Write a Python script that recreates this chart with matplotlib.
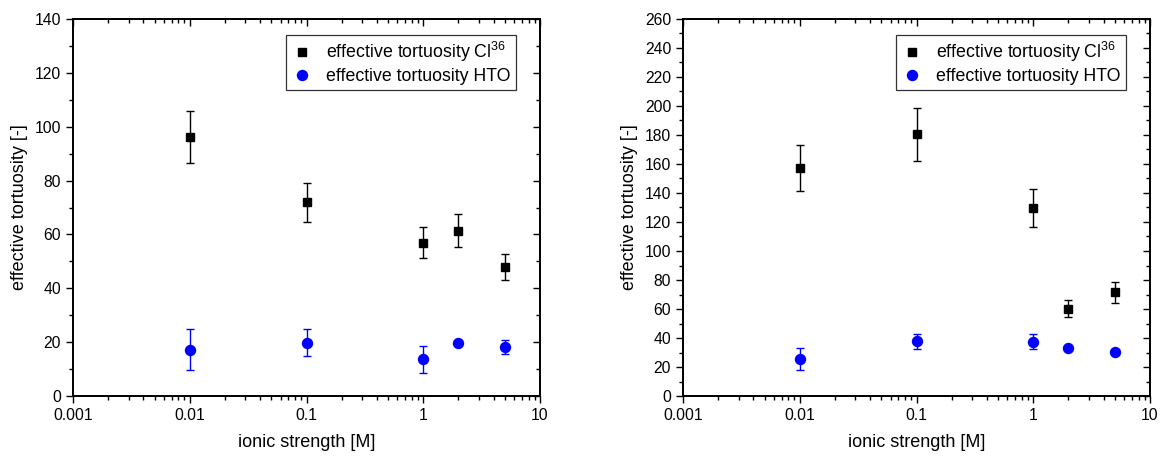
import matplotlib
matplotlib.use("Agg")
import matplotlib.pyplot as plt
from matplotlib.ticker import LogLocator, MultipleLocator, FixedLocator, NullFormatter
from matplotlib.lines import Line2D

plt.rcParams['font.family'] = ['Liberation Sans', 'DejaVu Sans']
plt.rcParams['mathtext.default'] = 'regular'

ionic_strength = [0.01, 0.1, 1, 2, 5]

# left panel
cl_left = [96.3, 71.9, 56.9, 61.4, 47.9]
cl_left_lo = [86.6, 64.7, 51.2, 55.3, 43.1]
cl_left_hi = [105.9, 79.1, 62.8, 67.7, 52.7]
hto_left = [17.1, 19.8, 13.6, 19.6, 18.2]
hto_left_lo = [9.5, 14.9, 8.7, 19.6, 15.7]
hto_left_hi = [24.8, 24.9, 18.5, 19.6, 20.7]

# right panel
cl_right = [157.2, 180.5, 129.4, 60.2, 71.5]
cl_right_lo = [141.4, 162.1, 116.6, 54.3, 64.1]
cl_right_hi = [172.9, 198.4, 142.5, 66.4, 78.9]
hto_right = [25.3, 37.7, 37.5, 33.1, 30.3]
hto_right_lo = [17.7, 32.6, 32.4, 33.1, 30.3]
hto_right_hi = [33.1, 42.8, 42.5, 33.1, 30.3]

x_ticks = [0.001, 0.01, 0.1, 1, 10]
x_tick_labels = ['0.001', '0.01', '0.1', '1', '10']
label_cl = 'effective tortuosity Cl$^{36}$'
label_hto = 'effective tortuosity HTO'

fig = plt.figure(figsize=(11.6, 4.57), dpi=100)
ax1 = fig.add_axes([73/1160, 1-396/457, 467/1160, 377/457])
ax2 = fig.add_axes([683/1160, 1-396/457, 467/1160, 377/457])


def set_ticks(a, direction):
    a.tick_params(which='both', direction=direction, width=1)
    a.tick_params(which='major', length=5)
    a.tick_params(which='minor', length=3)


def panel(ax, cl, cl_lo, cl_hi, hto, hto_lo, hto_hi, ymax):
    cl_err = [[c - l for c, l in zip(cl, cl_lo)], [h - c for c, h in zip(cl, cl_hi)]]
    hto_err = [[c - l for c, l in zip(hto, hto_lo)], [h - c for c, h in zip(hto, hto_hi)]]
    ax.errorbar(ionic_strength, cl, yerr=cl_err, fmt='s', color='black', ms=6.4,
                elinewidth=1.0, capsize=3, capthick=1.0)
    ax.errorbar(ionic_strength, hto, yerr=hto_err, fmt='o', color='#0000ff', ms=7.2,
                elinewidth=1.0, capsize=3, capthick=1.0)
    ax.set_xscale('log')
    ax.set_xlim(0.001, 10)
    ax.set_ylim(0, ymax)
    ax.xaxis.set_major_locator(FixedLocator(x_ticks))
    ax.set_xticklabels(x_tick_labels)
    ax.xaxis.set_minor_locator(LogLocator(base=10, subs=range(2, 10)))
    ax.xaxis.set_minor_formatter(NullFormatter())
    ax.yaxis.set_major_locator(MultipleLocator(20))
    ax.yaxis.set_minor_locator(MultipleLocator(10))
    set_ticks(ax, 'out')
    ax.tick_params(labelsize=11.3)
    for s in ax.spines.values():
        s.set_linewidth(1.1)
    ax.set_xlabel('ionic strength [M]', fontsize=13, labelpad=8)
    ax.set_ylabel('effective tortuosity [-]', fontsize=13, labelpad=5)

    # inward ticks on top and right
    tx = ax.twiny()
    tx.set_xscale('log')
    tx.set_xlim(ax.get_xlim())
    tx.xaxis.set_major_locator(FixedLocator(x_ticks))
    tx.xaxis.set_minor_locator(LogLocator(base=10, subs=range(2, 10)))
    tx.xaxis.set_major_formatter(NullFormatter())
    tx.xaxis.set_minor_formatter(NullFormatter())
    set_ticks(tx, 'in')
    ty = ax.twinx()
    ty.set_ylim(ax.get_ylim())
    ty.yaxis.set_major_locator(MultipleLocator(20))
    ty.yaxis.set_minor_locator(MultipleLocator(10))
    ty.yaxis.set_major_formatter(NullFormatter())
    set_ticks(ty, 'in')
    for a in (tx, ty):
        for s in a.spines.values():
            s.set_linewidth(1.1)

    handles = [Line2D([], [], ls='none', marker='s', color='black', ms=6.4),
               Line2D([], [], ls='none', marker='o', color='#0000ff', ms=7.2)]
    leg = ty.legend(handles, [label_cl, label_hto], loc='upper right',
                    bbox_to_anchor=(0.9486, 0.9576), fontsize=12.8,
                    frameon=True, fancybox=False, edgecolor='black',
                    handletextpad=0.75, borderpad=0.3, labelspacing=0.2,
                    handlelength=1.2, borderaxespad=0)
    leg.get_frame().set_linewidth(0.9)


panel(ax1, cl_left, cl_left_lo, cl_left_hi, hto_left, hto_left_lo, hto_left_hi, 140)
panel(ax2, cl_right, cl_right_lo, cl_right_hi, hto_right, hto_right_lo, hto_right_hi, 260)

fig.savefig('out.png', dpi=100)
